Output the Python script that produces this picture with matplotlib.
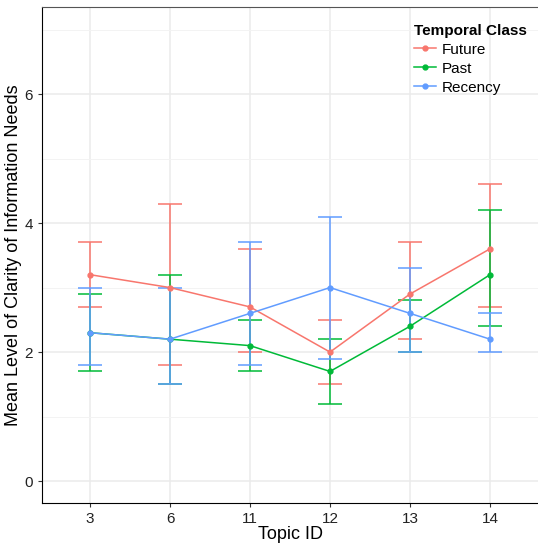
import matplotlib
matplotlib.use('Agg')
import matplotlib.pyplot as plt
from matplotlib.lines import Line2D
import numpy as np

plt.rcParams['font.family'] = ['Liberation Sans', 'DejaVu Sans']

# data
topics = ['3', '6', '11', '12', '13', '14']
classes = ['Future', 'Past', 'Recency']
colors = ['#F8766D', '#00BA38', '#619CFF']

future_mean = [3.2, 3.0, 2.7, 2.0, 2.9, 3.6]
future_low = [2.7, 1.8, 2.0, 1.5, 2.2, 2.7]
future_high = [3.7, 4.3, 3.6, 2.5, 3.7, 4.6]

past_mean = [2.3, 2.2, 2.1, 1.7, 2.4, 3.2]
past_low = [1.7, 1.5, 1.7, 1.2, 2.0, 2.4]
past_high = [2.9, 3.2, 2.5, 2.2, 2.8, 4.2]

recency_mean = [2.3, 2.2, 2.6, 3.0, 2.6, 2.2]
recency_low = [1.8, 1.5, 1.8, 1.9, 2.0, 2.0]
recency_high = [3.0, 3.0, 3.7, 4.1, 3.3, 2.6]

series = [(future_mean, future_low, future_high),
          (past_mean, past_low, past_high),
          (recency_mean, recency_low, recency_high)]

fig = plt.figure(figsize=(5.38, 5.46), dpi=100)
ax = fig.add_axes([42 / 538, 43 / 546, 496 / 538, 496 / 546])

x = np.arange(1, len(topics) + 1)
handles = []
for (m, lo, hi), name, c in zip(series, classes, colors):
    m = np.array(m)
    err = [m - np.array(lo), np.array(hi) - m]
    ax.errorbar(x, m, yerr=err, color=c, lw=1.1, capsize=8.5, capthick=1.1,
                marker='o', markersize=3.5, zorder=3)
    handles.append(Line2D([], [], color=c, lw=1.1, marker='o', markersize=3.5, label=name))

ax.set_xlim(0.4, 6.6)
ax.set_ylim(-0.34, 7.35)
ax.set_xticks(x)
ax.set_xticklabels(topics)
ax.set_yticks([0, 2, 4, 6])
ax.set_yticks([1, 3, 5, 7], minor=True)
ax.grid(True, which='major', color='#EBEBEB', lw=1.1, zorder=0)
ax.grid(True, which='minor', axis='y', color='#F3F3F3', lw=0.7, zorder=0)
ax.set_axisbelow(True)

ax.spines['right'].set_visible(False)
ax.spines['top'].set_color('#555555')
ax.spines['left'].set_color('black')
ax.spines['bottom'].set_color('black')
ax.tick_params(axis='both', which='major', length=3, labelsize=11, color='#333333', labelcolor='#222222')
ax.tick_params(axis='y', which='minor', length=0)

ax.set_xlabel('Topic ID', fontsize=13, labelpad=0)
ax.set_ylabel('Mean Level of Clarity of Information Needs', fontsize=13, labelpad=2)

leg = ax.legend(handles=handles, title='Temporal Class', loc='upper right',
                bbox_to_anchor=(0.997, 0.985), frameon=False,
                fontsize=11, title_fontsize=11, handlelength=1.4,
                handletextpad=0.4, labelspacing=0.33, borderaxespad=0.2)
leg.get_title().set_fontweight('bold')
leg._legend_box.align = 'left'

fig.savefig('out.png', dpi=100)
